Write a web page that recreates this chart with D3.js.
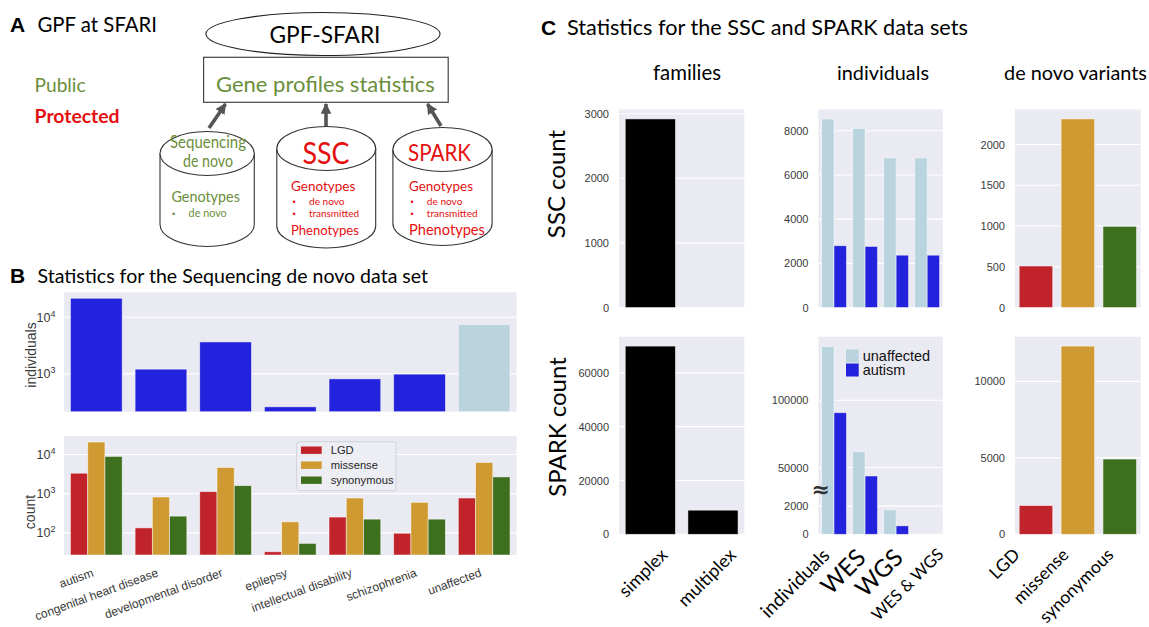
<!DOCTYPE html>
<html><head><meta charset="utf-8">
<script src="https://cdn.jsdelivr.net/npm/d3@7"></script>
<style>body{margin:0;background:#fff}svg{display:block}</style>
</head><body>
<script>
// ---------------- DATA ----------------
const bCategories = ["autism","congenital heart disease","developmental disorder","epilepsy","intellectual disability","schizophrenia","unaffected"];
const bIndividuals = [21600, 1210, 3660, 262, 816, 990, 7400];
const variantTypes = ["LGD","missense","synonymous"];
const bLGD        = [3320, 134, 1125, 33, 253, 98, 774];
const bMissense   = [20700, 822, 4640, 191, 774, 600, 6240];
const bSynonymous = [8890, 267, 1600, 54, 224, 224, 2670];
const bTopTicks = [1e3, 1e4];
const bBotTicks = [1e2, 1e3, 1e4];

const familyTypes = ["simplex","multiplex"];
const sscFamilies = [2919, 0];
const sparkFamilies = [69930, 8960];
const indivCategories = ["individuals","WES","WGS","WES & WGS"];
const statusTypes = ["unaffected","autism"];
const sscUnaffected = [8538, 8109, 6774, 6774];
const sscAutism     = [2797, 2765, 2369, 2369];
const sparkUnaffected = [139900, 61760, 1731, 0];
const sparkAutism     = [90770, 43680, 600, 0];
const sscDenovo   = [509, 2314, 996];
const sparkDenovo = [1877, 12310, 4921];

const sscFamTicks = [0,1000,2000,3000];
const sscIndTicks = [0,2000,4000,6000,8000];
const sscDnTicks  = [0,500,1000,1500,2000];
const sparkFamTicks = [0,20000,40000,60000];
const sparkIndTicks = [0,2000,50000,100000];
const sparkDnTicks  = [0,5000,10000];

// ---------------- STYLE ----------------
const ARIAL = "'Liberation Sans', Arial, sans-serif";
const CAL = "Lato, 'Open Sans', sans-serif";
const BG = "#eaeaf2";
const TICK = "#3a3a3a";
const C_BLUE = "#2323dd", C_LBLUE = "#bad4df";
const C_RED = "#c1232a", C_GOLD = "#cf9a31", C_GREEN = "#3e6f1f";
const varColors = [C_RED, C_GOLD, C_GREEN];
const statusColors = [C_LBLUE, C_BLUE];
const A_GREEN = "#6b8e3b", A_RED = "#e41010";

const svg = d3.select("body").append("svg").attr("width",1149).attr("height",627);
svg.append("rect").attr("width",1149).attr("height",627).attr("fill","#fff");

function txt(g, s, x, y, o) {
  o = o || {};
  const t = g.append("text").attr("x",x).attr("y",y).text(s)
    .attr("font-family", o.family || CAL).attr("font-size", o.size || 16)
    .attr("fill", o.fill || "#000").attr("font-weight", o.weight || "normal")
    .attr("text-anchor", o.anchor || "start");
  if (o.fit) {
    const L = t.node().getComputedTextLength();
    t.attr("font-size", (o.size || 16) * o.fit / L);
  }
  if (o.width) {
    t.attr("textLength", o.width).attr("lengthAdjust","spacingAndGlyphs");
  }
  return t;
}

// ---------------- PANEL A ----------------
const A = svg.append("g");
txt(A, "A", 10, 32, {family:ARIAL, weight:"bold", size:21});
txt(A, "GPF at SFARI", 37.5, 32, {fit:119.5});
A.append("ellipse").attr("cx",323).attr("cy",34).attr("rx",117).attr("ry",21.5)
  .attr("fill","#fff").attr("stroke","#222").attr("stroke-width",1.1);
txt(A, "GPF-SFARI", 325, 42.5, {anchor:"middle", fit:111});
A.append("rect").attr("x",203.6).attr("y",57.3).attr("width",244.6).attr("height",45)
  .attr("fill","#fff").attr("stroke","#444").attr("stroke-width",1.2);
txt(A, "Gene profiles statistics", 216, 92, {fit:219, fill:A_GREEN});
txt(A, "Public", 34.6, 91.5, {fit:51, fill:A_GREEN});
txt(A, "Protected", 34.6, 123, {fit:85, fill:A_RED, weight:"bold"});

const defs = svg.append("defs");
defs.append("marker").attr("id","arr").attr("viewBox","0 0 10 10").attr("refX",9).attr("refY",5)
  .attr("markerWidth",3).attr("markerHeight",3).attr("orient","auto")
  .append("path").attr("d","M0,0L10,5L0,10z").attr("fill","#555");
[[209,128,225.5,104],[326,126,326,104],[441,126,427.5,104]].forEach(a=>{
  A.append("line").attr("x1",a[0]).attr("y1",a[1]).attr("x2",a[2]).attr("y2",a[3])
   .attr("stroke","#555").attr("stroke-width",3.6).attr("marker-end","url(#arr)");
});

function cylinder(x0,x1,top,bot,ry){
  const cx=(x0+x1)/2, rx=(x1-x0)/2, yt=top+ry, yb=bot-ry;
  A.append("path").attr("d",`M${x0},${yt} L${x0},${yb} A${rx},${ry} 0 0 0 ${x1},${yb} L${x1},${yt}`)
    .attr("fill","#fff").attr("stroke","#333").attr("stroke-width",1.1);
  A.append("ellipse").attr("cx",cx).attr("cy",yt).attr("rx",rx).attr("ry",ry)
    .attr("fill","#fff").attr("stroke","#333").attr("stroke-width",1.1);
}
cylinder(160,254.3,131.5,246.5,22);
cylinder(276.8,375.7,126.5,248,22);
cylinder(392.9,492.1,127.5,245.5,22);

txt(A, "Sequencing", 208, 148, {anchor:"middle", size:17, width:76, fill:A_GREEN});
txt(A, "de novo", 208, 167, {anchor:"middle", size:17, width:50, fill:A_GREEN});
txt(A, "Genotypes", 171.4, 202, {fit:68.6, fill:A_GREEN});
txt(A, "•", 172, 217, {size:9, fill:A_GREEN, family:ARIAL});
txt(A, "de novo", 188.6, 217, {fit:38.2, fill:A_GREEN});

txt(A, "SSC", 326, 164, {anchor:"middle", size:31, width:47, fill:A_RED});
txt(A, "Genotypes", 291, 191, {fit:64.4, fill:A_RED});
txt(A, "•", 292.5, 205, {size:9, fill:A_RED, family:ARIAL});
txt(A, "de novo", 309, 205, {fit:35.6, fill:A_RED});
txt(A, "•", 292.5, 217, {size:9, fill:A_RED, family:ARIAL});
txt(A, "transmitted", 309, 217, {fit:50, fill:A_RED});
txt(A, "Phenotypes", 291, 235, {fit:68, fill:A_RED});

txt(A, "SPARK", 439.5, 161, {anchor:"middle", size:24, width:63, fill:A_RED});
txt(A, "Genotypes", 409, 191, {fit:64, fill:A_RED});
txt(A, "•", 410.5, 205, {size:9, fill:A_RED, family:ARIAL});
txt(A, "de novo", 426.8, 205, {fit:35.7, fill:A_RED});
txt(A, "•", 410.5, 217, {size:9, fill:A_RED, family:ARIAL});
txt(A, "transmitted", 426.8, 217, {fit:51, fill:A_RED});
txt(A, "Phenotypes", 409, 235, {fit:76, fill:A_RED});

// ---------------- helpers for plots ----------------
function background(g, x, y) {
  const [x0,x1] = x.range(), [yb,yt] = [d3.max(y.range()), d3.min(y.range())];
  g.append("rect").attr("x",x0).attr("y",yt).attr("width",x1-x0).attr("height",yb-yt).attr("fill",BG);
}
function grid(g, x, y, ticks) {
  const [x0,x1] = x.range();
  g.append("g").selectAll("line").data(ticks).join("line")
    .attr("x1",x0).attr("x2",x1).attr("y1",d=>y(d)).attr("y2",d=>y(d))
    .attr("stroke","#fff").attr("stroke-width",1.1);
}
function yAxis(g, x, y, ticks, fmt, size, pad) {
  const ax = g.append("g").attr("transform",`translate(${x.range()[0]},0)`)
    .call(d3.axisLeft(y).tickValues(ticks).tickSize(0).tickPadding(pad).tickFormat(fmt));
  ax.select(".domain").remove();
  ax.selectAll("text").attr("font-family",ARIAL).attr("font-size",size).attr("fill",TICK);
  return ax;
}
function logLabels(ax) {
  ax.selectAll(".tick text").each(function(d){
    const t = d3.select(this); t.text(null);
    t.append("tspan").text("10");
    t.append("tspan").attr("dy","-0.55em").attr("font-size","0.72em").text(Math.round(Math.log10(d)));
  });
}
function barStroke(sel){ return sel.attr("stroke","#fff").attr("stroke-width",0.8).attr("stroke-opacity",0.6); }

// ---------------- PANEL B ----------------
const B = svg.append("g");
txt(B, "B", 10, 283, {family:ARIAL, weight:"bold", size:21});
txt(B, "Statistics for the Sequencing de novo data set", 37.5, 283, {fit:391});

const bx = d3.scaleBand().domain(bCategories).range([64,516.5]).paddingInner(0.2).paddingOuter(0.1);
const byTop = d3.scaleLog().domain([215, 27500]).range([411.7, 292.3]);
background(B, bx, byTop); grid(B, bx, byTop, bTopTicks);
barStroke(B.append("g").selectAll("rect").data(bCategories).join("rect")
  .attr("x",d=>bx(d)).attr("width",bx.bandwidth())
  .attr("y",(d,i)=>byTop(bIndividuals[i])).attr("height",(d,i)=>byTop.range()[0]-byTop(bIndividuals[i]))
  .attr("fill",d=>d==="unaffected"?C_LBLUE:C_BLUE));
logLabels(yAxis(B, bx, byTop, bTopTicks, d=>d, 12.5, 8.5));
B.append("text").attr("transform","translate(36,355) rotate(-90)").attr("text-anchor","middle")
  .attr("font-family",ARIAL).attr("font-size",14).attr("fill",TICK).text("individuals");

const byBot = d3.scaleLog().domain([27.3, 29500]).range([555, 436]);
const bx1 = d3.scaleBand().domain(variantTypes).range([0,bx.bandwidth()]);
const bSeries = [bLGD, bMissense, bSynonymous];
background(B, bx, byBot); grid(B, bx, byBot, bBotTicks);
const bg = B.append("g").selectAll("g").data(bCategories).join("g").attr("transform",d=>`translate(${bx(d)},0)`);
barStroke(bg.selectAll("rect").data((d,i)=>variantTypes.map((v,j)=>({v, val:bSeries[j][i], j}))).join("rect")
  .attr("x",d=>bx1(d.v)).attr("width",bx1.bandwidth())
  .attr("y",d=>byBot(d.val)).attr("height",d=>555-byBot(d.val)).attr("fill",d=>varColors[d.j]));
logLabels(yAxis(B, bx, byBot, bBotTicks, d=>d, 12.5, 8.5));
B.append("text").attr("transform","translate(35,512) rotate(-90)").attr("text-anchor","middle")
  .attr("font-family",ARIAL).attr("font-size",14).attr("fill",TICK).text("count");
const bxa = B.append("g").attr("transform","translate(0,555)").call(d3.axisBottom(bx).tickSize(0));
bxa.select(".domain").remove();
bxa.selectAll("text").attr("y",0).attr("dy",null).attr("x",0)
  .attr("text-anchor","end").attr("transform","translate(-2,21) rotate(-20)")
  .attr("font-family",ARIAL).attr("font-size",12).attr("fill",TICK);
// legend
const lg = B.append("g");
lg.append("rect").attr("x",296.7).attr("y",441.7).attr("width",99.3).attr("height",49).attr("rx",2.5)
  .attr("fill","#ededf4").attr("stroke","#d2d2da").attr("stroke-width",1);
variantTypes.forEach((v,i)=>{
  lg.append("rect").attr("x",301).attr("y",446.5+i*15).attr("width",20.7).attr("height",7.4).attr("fill",varColors[i]);
  lg.append("text").attr("x",330.7).attr("y",454.3+i*15).attr("font-family",ARIAL).attr("font-size",11.2)
    .attr("fill","#262626").text(v);
});

// ---------------- PANEL C ----------------
const C = svg.append("g");
txt(C, "C", 541, 35, {family:ARIAL, weight:"bold", size:21});
txt(C, "Statistics for the SSC and SPARK data sets", 567, 35, {fit:401});
txt(C, "families", 687, 80, {anchor:"middle", fit:68});
txt(C, "individuals", 883, 80, {anchor:"middle", fit:92});
txt(C, "de novo variants", 1075.5, 80, {anchor:"middle", fit:143});
C.append("text").attr("transform","translate(565,184) rotate(-90)").attr("text-anchor","middle")
  .attr("font-family",CAL).attr("font-size",24).text("SSC count");
C.append("text").attr("transform","translate(566,427) rotate(-90)").attr("text-anchor","middle")
  .attr("font-family",CAL).attr("font-size",24).text("SPARK count");

const colX = { fam:[619,744.3], ind:[818.5,942.7], dn:[1015,1140.7] };
const rowY = [[307.5,109.5],[534.3,336.7]];

function simplePlot(cats, vals, xr, yr, ticks, colorFn, y) {
  const g = C.append("g");
  const x = d3.scaleBand().domain(cats).range(xr).paddingInner(0.2).paddingOuter(0.1);
  y = y || d3.scaleLinear().domain([0, d3.max(vals)*1.05]).range(yr);
  background(g, x, y); grid(g, x, y, ticks);
  barStroke(g.append("g").selectAll("rect").data(cats).join("rect")
    .attr("x",d=>x(d)).attr("width",x.bandwidth())
    .attr("y",(d,i)=>y(vals[i])).attr("height",(d,i)=>y(0)-y(vals[i]))
    .attr("fill",(d,i)=>colorFn(i)));
  yAxis(g, x, y, ticks, d3.format("d"), 11, 10);
  return {g, x, y};
}
function groupPlot(cats, series, xr, yr, ticks, y) {
  const g = C.append("g");
  const x = d3.scaleBand().domain(cats).range(xr).paddingInner(0.2).paddingOuter(0.1);
  const x1 = d3.scaleBand().domain(statusTypes).range([0,x.bandwidth()]);
  y = y || d3.scaleLinear().domain([0, d3.max(series.flat())*1.05]).range(yr);
  background(g, x, y); grid(g, x, y, ticks);
  const gg = g.append("g").selectAll("g").data(cats).join("g").attr("transform",d=>`translate(${x(d)},0)`);
  barStroke(gg.selectAll("rect").data((d,i)=>statusTypes.map((s,j)=>({s,j,val:series[j][i]}))).join("rect")
    .attr("x",d=>x1(d.s)).attr("width",x1.bandwidth())
    .attr("y",d=>y(d.val)).attr("height",d=>y(0)-y(d.val)).attr("fill",d=>statusColors[d.j]));
  yAxis(g, x, y, ticks, d3.format("d"), 11, 10);
  return {g, x, y};
}

simplePlot(familyTypes, sscFamilies, colX.fam, rowY[0], sscFamTicks, ()=>"#000");
groupPlot(indivCategories, [sscUnaffected, sscAutism], colX.ind, rowY[0], sscIndTicks);
simplePlot(variantTypes, sscDenovo, colX.dn, rowY[0], sscDnTicks, i=>varColors[i]);

const pFam = simplePlot(familyTypes, sparkFamilies, colX.fam, rowY[1], sparkFamTicks, ()=>"#000");
// broken axis: lower segment 0..~3100, upper segment ~33000..max
const yBroken = d3.scaleLinear().domain([0, 3145, 33260, d3.max(sparkUnaffected)*1.053]).range([534.3, 490, 490, 336.7]);
const pInd = groupPlot(indivCategories, [sparkUnaffected, sparkAutism], colX.ind, rowY[1], sparkIndTicks, yBroken);
const pDn = simplePlot(variantTypes, sparkDenovo, colX.dn, rowY[1], sparkDnTicks, i=>varColors[i]);

C.append("text").attr("x",820.8).attr("y",489.5).attr("dy","0.35em").attr("text-anchor","middle")
  .attr("font-family","'DejaVu Sans', sans-serif").attr("font-size",22).attr("font-weight","bold")
  .attr("fill","#333").text("≈");

statusTypes.forEach((s,i)=>{
  C.append("rect").attr("x",846).attr("y",349.5+i*14).attr("width",12.7).attr("height",13).attr("fill",statusColors[i]);
  C.append("text").attr("x",862.7).attr("y",361+i*14).attr("font-family",ARIAL).attr("font-size",14.5).attr("fill","#111").text(s);
});

const labelSize = {"simplex":18,"multiplex":18,"individuals":19,"WES":24,"WGS":24,"WES & WGS":16.5,"LGD":17.5,"missense":17.5,"synonymous":17.5};
const labelShift = {"simplex":9,"multiplex":15,"individuals":-13,"WES":-10,"WGS":-4,"WES & WGS":9,"LGD":-24,"missense":-17,"synonymous":-14};
[pFam, pInd, pDn].forEach(p=>{
  const ax = C.append("g").attr("transform","translate(0,547)").call(d3.axisBottom(p.x).tickSize(0));
  ax.select(".domain").remove();
  ax.selectAll("text").attr("y",0).attr("x",0).attr("dy","0.72em")
    .attr("text-anchor","end").attr("font-family",CAL).attr("fill","#000")
    .attr("font-size",d=>labelSize[d])
    .attr("transform",d=>`translate(${labelShift[d]},0) rotate(-45)`);
});
</script>
</body></html>
